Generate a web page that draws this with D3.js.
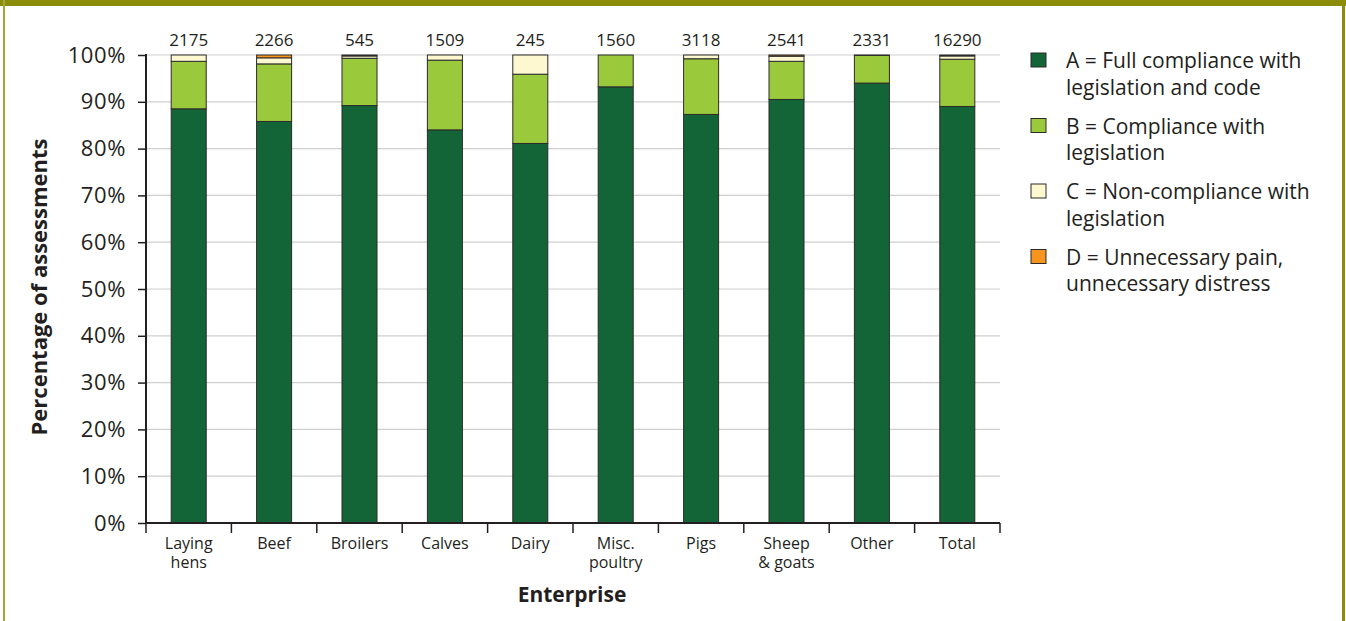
<!DOCTYPE html>
<html>
<head>
<meta charset="utf-8">
<script src="https://cdn.jsdelivr.net/npm/d3@7"></script>
<style>
  html, body { margin: 0; padding: 0; background: #fff; }
  svg { display: block; }
  text { font-family: "Open Sans", "Noto Sans", sans-serif; fill: #231f20; }
</style>
</head>
<body>
<svg id="chart" width="1346" height="621"></svg>
<script>
// ---- data ----
const categories = ["Laying hens", "Beef", "Broilers", "Calves", "Dairy", "Misc. poultry", "Pigs", "Sheep & goats", "Other", "Total"];
const categoryLines = [["Laying", "hens"], ["Beef"], ["Broilers"], ["Calves"], ["Dairy"], ["Misc.", "poultry"], ["Pigs"], ["Sheep", "& goats"], ["Other"], ["Total"]];
const counts = [2175, 2266, 545, 1509, 245, 1560, 3118, 2541, 2331, 16290];
const seriesA = [88.5, 85.8, 89.2, 84.0, 81.1, 93.2, 87.3, 90.5, 94.0, 89.0];
const seriesB = [10.15, 12.3, 10.1, 14.9, 14.8, 6.8, 11.9, 8.15, 5.9, 10.1];
const seriesC = [1.35, 1.3, 0.5, 1.1, 4.1, 0, 0.8, 1.1, 0.1, 0.7];
const seriesD = [0, 0.6, 0.2, 0, 0, 0, 0, 0.25, 0, 0.2];
const seriesKeys = ["A", "B", "C", "D"];
const legendLabels = [
  ["A = Full compliance with", "legislation and code"],
  ["B = Compliance with", "legislation"],
  ["C = Non-compliance with", "legislation"],
  ["D = Unnecessary pain,", "unnecessary distress"]
];
const yTicks = [0, 10, 20, 30, 40, 50, 60, 70, 80, 90, 100];
const colors = { A: "#136436", B: "#9bc93c", C: "#fdf8d0", D: "#f7941d" };

// ---- build table ----
const rows = categories.map((c, i) => ({ cat: c, A: seriesA[i], B: seriesB[i], C: seriesC[i], D: seriesD[i] }));
const stack = d3.stack().keys(seriesKeys)(rows);

const svg = d3.select("#chart");

// frame
svg.append("rect").attr("x", 0).attr("y", 0).attr("width", 1346).attr("height", 6).attr("fill", "#8a8c0a");
svg.append("rect").attr("x", 3).attr("y", 0).attr("width", 2).attr("height", 621).attr("fill", "#a4a63c");
svg.append("rect").attr("x", 1342).attr("y", 0).attr("width", 3).attr("height", 621).attr("fill", "#8a8c0a");

const plot = { left: 146, right: 1000, top: 55, bottom: 523 };

const x = d3.scaleBand().domain(categories).range([plot.left, plot.right]).paddingInner(0.59).paddingOuter(0.295);
const xCell = d3.scaleBand().domain(categories).range([plot.left, plot.right]).padding(0);
const y = d3.scaleLinear().domain([0, 100]).range([plot.bottom, plot.top]);

// gridlines
svg.append("g").selectAll("line").data(yTicks.filter(t => t > 0)).join("line")
  .attr("x1", plot.left).attr("x2", plot.right)
  .attr("y1", d => y(d)).attr("y2", d => y(d))
  .attr("stroke", "#cfcfcf").attr("stroke-width", 1.2);

// bars
svg.append("g").selectAll("g").data(stack).join("g")
  .attr("fill", d => colors[d.key])
  .selectAll("rect").data(d => d.filter(s => s[1] - s[0] > 0)).join("rect")
  .attr("x", d => x(d.data.cat))
  .attr("width", x.bandwidth())
  .attr("y", d => y(d[1]))
  .attr("height", d => y(d[0]) - y(d[1]))
  .attr("stroke", "#2b2b2b").attr("stroke-width", 1);

// y axis
const yAxis = svg.append("g").attr("transform", `translate(${plot.left},0)`)
  .call(d3.axisLeft(y).tickValues(yTicks).tickFormat(d => d + "%").tickSize(8).tickPadding(12));
yAxis.select(".domain").attr("stroke", "#231f20").attr("stroke-width", 2).attr("d", `M0,${plot.top - 1}V${plot.bottom + 1}`);
yAxis.selectAll(".tick line").attr("stroke", "#231f20").attr("stroke-width", 1.5);
yAxis.selectAll(".tick text").attr("font-size", 22).attr("letter-spacing", 0.6).attr("fill", "#231f20").attr("font-family", "'Open Sans', sans-serif");

// x axis
const xAxis = svg.append("g").attr("transform", `translate(0,${plot.bottom})`)
  .call(d3.axisBottom(x).tickSize(0).tickFormat(""));
xAxis.select(".domain").attr("stroke", "#231f20").attr("stroke-width", 2).attr("d", `M${plot.left - 1},0H${plot.right}`);
xAxis.selectAll(".tick").remove();
const boundaries = categories.map(c => xCell(c)).concat([plot.right]);
xAxis.selectAll("line.bt").data(boundaries).join("line").attr("class", "bt")
  .attr("x1", d => d).attr("x2", d => d).attr("y1", 0).attr("y2", 10)
  .attr("stroke", "#231f20").attr("stroke-width", 1.5);

// category labels
const catLab = svg.append("g").selectAll("text").data(categories).join("text")
  .attr("x", d => x(d) + x.bandwidth() / 2)
  .attr("y", 549)
  .attr("text-anchor", "middle")
  .attr("font-size", 16);
catLab.each(function(d, i) {
  d3.select(this).selectAll("tspan").data(categoryLines[i]).join("tspan")
    .attr("x", x(d) + x.bandwidth() / 2)
    .attr("dy", (t, j) => j === 0 ? 0 : 18.5)
    .text(t => t);
});

// counts
svg.append("g").selectAll("text").data(categories).join("text")
  .attr("x", d => x(d) + x.bandwidth() / 2)
  .attr("y", 46)
  .attr("text-anchor", "middle")
  .attr("font-size", 17)
  .text((d, i) => counts[i]);

// axis titles
svg.append("text").attr("transform", `translate(47,287) rotate(-90)`)
  .attr("text-anchor", "middle").attr("font-size", 22).attr("font-weight", "bold")
  .text("Percentage of assessments");
svg.append("text").attr("x", 572).attr("y", 602)
  .attr("text-anchor", "middle").attr("font-size", 21).attr("font-weight", "bold")
  .text("Enterprise");

// legend
const legend = svg.append("g").attr("transform", "translate(1031,0)");
const legItems = legend.selectAll("g").data(seriesKeys).join("g")
  .attr("transform", (d, i) => `translate(0,${53 + i * 65.5})`);
legItems.append("rect").attr("width", 15).attr("height", 14)
  .attr("fill", d => colors[d]).attr("stroke", "#2b2b2b").attr("stroke-width", 1);
legItems.append("text").attr("x", 35).attr("y", 15).attr("font-size", 21)
  .each(function(d, i) {
    d3.select(this).selectAll("tspan").data(legendLabels[i]).join("tspan")
      .attr("x", 35).attr("dy", (t, j) => j === 0 ? 0 : 26.5).text(t => t);
  });
</script>
</body>
</html>
